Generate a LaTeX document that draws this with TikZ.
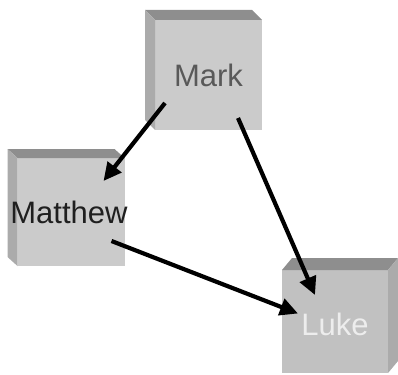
\documentclass[tikz,border=0pt]{standalone}
\usepackage{fontspec}
\setmainfont{Liberation Sans}
\usetikzlibrary{arrows.meta,backgrounds}
\definecolor{faceGray}{HTML}{CBCBCB}
\definecolor{topGray}{HTML}{8E8E8E}
\definecolor{sideGray}{HTML}{ABABAB}
\begin{document}
\begin{tikzpicture}[
        x=1pt, y=-1pt,
        box/.style={fill=faceGray,minimum width=107pt,minimum height=108pt,
            inner sep=0pt,outer sep=0pt},
        boxtext/.style={inner sep=0pt,font=\fontsize{31}{33}\selectfont},
        topbevel/.style={fill=topGray},
        sidebevel/.style={fill=sideGray},
        arr/.style={-{Triangle[length=18pt,width=17pt]},line width=4.2pt,black},
        ]
    \useasboundingbox (0,0) rectangle (398,374);
    \node (mark) [box, minimum height=110pt] at (208.5,75) {};
    \node (matthew) [box] at (71,212) {};
    \node (luke) [box, fill=faceGray!95!black, minimum width=106pt,
        minimum height=103pt] at (335,321.5) {};
    % bevels
    \fill[topbevel] (mark.north west) -- ++(-10,-10)
        -- ([shift={(-10,-10)}]mark.north east) -- (mark.north east) -- cycle;
    \fill[sidebevel] (mark.north west) -- ++(-10,-10)
        -- ([shift={(-10,-10)}]mark.south west) -- (mark.south west) -- cycle;
    \fill[topbevel] (matthew.north west) -- ++(-10,-9)
        -- ([shift={(-10,-9)}]matthew.north east) -- (matthew.north east) -- cycle;
    \fill[sidebevel] (matthew.north west) -- ++(-10,-9)
        -- ([shift={(-10,-9)}]matthew.south west) -- (matthew.south west) -- cycle;
    \fill[topbevel] (luke.north west) -- ++(10,-12)
        -- ([shift={(10,-12)}]luke.north east) -- (luke.north east) -- cycle;
    \fill[sidebevel] (luke.north east) -- ++(10,-12)
        -- ([shift={(10,-12)}]luke.south east) -- (luke.south east) -- cycle;
    % labels
    \node (markname) [boxtext, text=black!65] at (mark) {Mark};
    \node (matthewname) [boxtext, text=black!88, xshift=-2pt] at (matthew) {Matthew};
    \node (lukename) [boxtext, text=black!7, yshift=-3pt] at (luke) {Luke};
    % arrows
    \draw[arr] ([xshift=10pt,yshift=27pt]mark.south west)
        -- ([xshift=-21pt,yshift=-23pt]matthew.north east);
    \draw[arr] ([xshift=-24pt,yshift=12pt]mark.south east)
        -- ([xshift=33pt,yshift=-25pt]luke.north west);
    \draw[arr] ([xshift=-13pt,yshift=25pt]matthew.south east)
        -- ([xshift=16pt,yshift=8pt]luke.west);
\end{tikzpicture}
\end{document}
